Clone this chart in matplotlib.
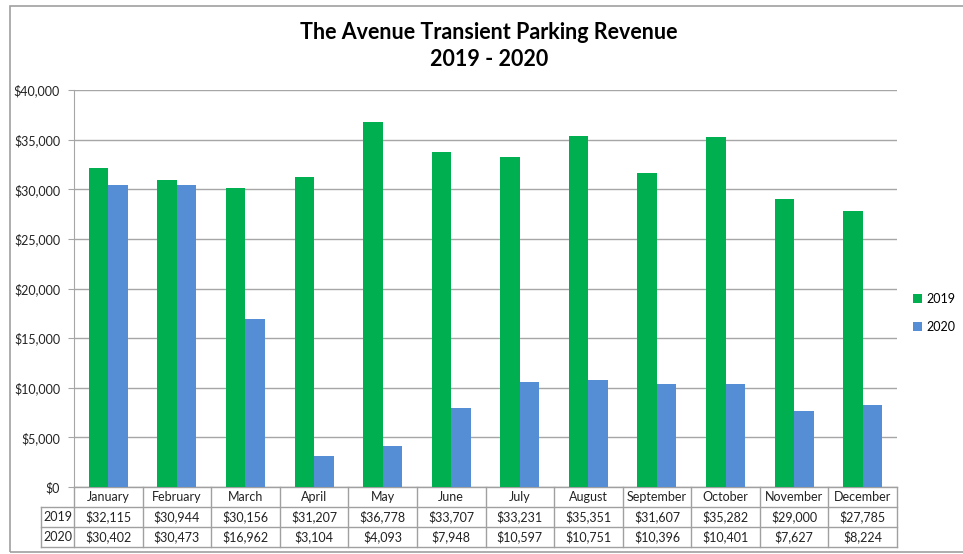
import matplotlib
matplotlib.use("Agg")
import matplotlib.pyplot as plt
from matplotlib.patches import Rectangle
from matplotlib.lines import Line2D
import matplotlib.transforms as mtransforms
import numpy as np

months = ["January", "February", "March", "April", "May", "June", "July",
          "August", "September", "October", "November", "December"]
rev_2019 = [32115, 30944, 30156, 31207, 36778, 33707, 33231, 35351, 31607, 35282, 29000, 27785]
rev_2020 = [30402, 30473, 16962, 3104, 4093, 7948, 10597, 10751, 10396, 10401, 7627, 8224]
series_names = ["2019", "2020"]
yticks = [0, 5000, 10000, 15000, 20000, 25000, 30000, 35000, 40000]
title = "The Avenue Transient Parking Revenue\n2019 - 2020"

plt.rcParams['font.family'] = ['Lato', 'DejaVu Sans']

W, H = 963, 554
fig = plt.figure(figsize=(W / 100, H / 100), dpi=100)
fig.patch.set_facecolor("white")

ax_l, ax_r, ax_t, ax_b = 74, 897, 90, 487
ax = fig.add_axes([ax_l / W, 1 - ax_b / H, (ax_r - ax_l) / W, (ax_b - ax_t) / H])

green = "#00b050"
blue = "#558ed5"
grid_c = "#a6a6a6"

x = np.arange(len(months))
bw = 0.284
ax.bar(x - bw / 2, rev_2019, bw, color=green, label=series_names[0], zorder=3)
ax.bar(x + bw / 2, rev_2020, bw, color=blue, label=series_names[1], zorder=3)

ax.set_xlim(-0.5, len(months) - 0.5)
ax.set_ylim(0, 40000)
ax.set_yticks(yticks)
ax.set_yticklabels([f"${v:,.0f}" for v in yticks], fontsize=9, color="#222222")
ax.set_xticks([])
ax.yaxis.grid(True, color=grid_c, linewidth=1.0, zorder=0)
for s in ["top", "right", "bottom"]:
    ax.spines[s].set_visible(False)
ax.spines["left"].set_color(grid_c)
ax.tick_params(axis="y", length=4, color=grid_c, pad=6)

# Data table
trans = mtransforms.blended_transform_factory(ax.transData, fig.transFigure)
row_y = [487, 507, 527, 547]  # pixel boundaries
def fy(py):
    return 1 - py / H
lab_left = -0.5 - (ax_l - 41) / ((ax_r - ax_l) / 12)
tbl_c = "#a0a0a0"
for i, py in enumerate(row_y):
    x0 = -0.5 if i == 0 else lab_left
    ax.add_line(Line2D([x0, len(months) - 0.5], [fy(py), fy(py)], transform=trans,
                       color=tbl_c, lw=1.0, clip_on=False))
for k in range(len(months) + 1):
    xv = k - 0.5
    ax.add_line(Line2D([xv, xv], [fy(row_y[0]), fy(row_y[-1])], transform=trans,
                       color=tbl_c, lw=1.0, clip_on=False))
ax.add_line(Line2D([lab_left, lab_left], [fy(row_y[1]), fy(row_y[-1])], transform=trans,
                   color=tbl_c, lw=1.0, clip_on=False))

def cy(r):
    return fy((row_y[r] + row_y[r + 1]) / 2)

for i, m in enumerate(months):
    ax.text(i, cy(0), m, transform=trans, ha="center", va="center", fontsize=9, color="#222222")
    ax.text(i, cy(1), f"${rev_2019[i]:,}", transform=trans, ha="center", va="center", fontsize=9, color="#222222")
    ax.text(i, cy(2), f"${rev_2020[i]:,}", transform=trans, ha="center", va="center", fontsize=9, color="#222222")
for r, nm in zip([1, 2], series_names):
    ax.text((lab_left - 0.5) / 2, cy(r), nm, transform=trans, ha="center", va="center",
            fontsize=9, color="#222222")

# Title
fig.text(489 / W, 1 - 46 / H, title, ha="center", va="center", fontsize=15.5,
         fontweight="bold", color="#000000", linespacing=1.3)

# Legend
leg = fig.legend(loc="center left", bbox_to_anchor=(908 / W, 1 - 313 / H), frameon=False,
                 fontsize=9, handlelength=0.7, handleheight=0.7, handletextpad=0.4,
                 labelspacing=1.25, borderaxespad=0)

# Outer chart border
fig.add_artist(Rectangle((10 / W, 1 - 552 / H), 1.2, (552 - 6) / H, transform=fig.transFigure,
                         fill=False, edgecolor="#a0a0a0", lw=1.2))

fig.savefig("out.png", dpi=100, facecolor="white")
